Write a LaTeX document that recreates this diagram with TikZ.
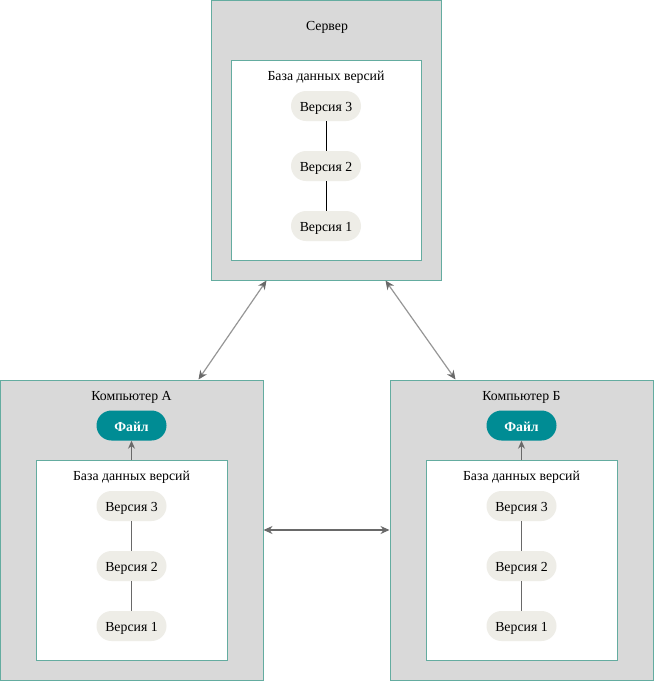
\documentclass[tikz,border=0pt]{standalone}
\usepackage{fontspec}
\setmainfont{Liberation Serif}
\usetikzlibrary{arrows.meta,positioning}
\definecolor{boxgray}{RGB}{217,217,217}
\definecolor{edgeteal}{RGB}{100,172,160}
\definecolor{pillfill}{RGB}{238,237,231}
\definecolor{filefill}{RGB}{0,140,148}
\definecolor{linkgray}{RGB}{150,150,150}
\definecolor{tipgray}{RGB}{105,105,105}
\tikzset{
  labeltext/.style={font=\fontsize{13.8}{16}\selectfont, text height=11pt, text depth=0pt},
  machine/.style={draw=edgeteal, fill=boxgray, line width=1pt, inner sep=0pt},
  repo/.style={draw=edgeteal, fill=white, line width=1pt, inner sep=0pt},
  version/.style={labeltext, fill=pillfill, rounded corners=15pt, minimum width=70pt,
    minimum height=30pt, inner sep=0pt},
  workfile/.style={labeltext, fill=filefill, rounded corners=15pt, minimum width=70pt,
    minimum height=30pt, inner sep=0pt, text=white, font=\fontsize{13.8}{16}\selectfont\bfseries},
  caption/.style={labeltext, inner sep=0pt},
  history/.style={line width=1pt},
  sync/.style={draw=linkgray, line width=1.2pt, {Stealth[length=9pt,width=8pt,color=tipgray]}-{Stealth[length=9pt,width=8pt,color=tipgray]}},
  checkout/.style={draw=tipgray, line width=1pt, -{Stealth[length=8pt,width=7pt,color=tipgray]}}
}
\begin{document}
\begin{tikzpicture}[x=1pt,y=-1pt]
\useasboundingbox (0,0) rectangle (654,681);

% ---------- server ----------
\node[machine, minimum width=230pt, minimum height=280pt] (srv) at (326,140) {};
\node[caption] (srvtitle) at (327,25) {Сервер};
\node[repo, minimum width=190pt, minimum height=200pt] (srvdb) at (326,160) {};
\node[caption] (srvdbtitle) at (326,75) {База данных версий};
\node[version] (s3) at (326,106) {Версия 3};
\node[version] (s2) at (326,166) {Версия 2};
\node[version] (s1) at (326,226) {Версия 1};
\draw[history] (s3) -- (s2);
\draw[history] (s2) -- (s1);

% ---------- computer A ----------
\node[machine, minimum width=263pt, minimum height=300pt] (compA) at (131.5,530) {};
\node[caption] (titleA) at (131.5,395) {Компьютер А};
\node[workfile] (fileA) at (131.5,425.5) {Файл};
\node[repo, minimum width=191pt, minimum height=200pt] (dbA) at (131.5,560) {};
\node[caption] (dbtitleA) at (131.5,475) {База данных версий};
\node[version] (a3) at (131.5,506) {Версия 3};
\node[version] (a2) at (131.5,566) {Версия 2};
\node[version] (a1) at (131.5,626) {Версия 1};
\draw[history, draw=tipgray] (a3) -- (a2);
\draw[history, draw=tipgray] (a2) -- (a1);
\draw[checkout] (dbA.north) -- (fileA.south);

% ---------- computer B ----------
\node[machine, minimum width=263pt, minimum height=300pt] (compB) at (521.5,530) {};
\node[caption] (titleB) at (521.5,395) {Компьютер Б};
\node[workfile] (fileB) at (521.5,425.5) {Файл};
\node[repo, minimum width=191pt, minimum height=200pt] (dbB) at (521.5,560) {};
\node[caption] (dbtitleB) at (521.5,475) {База данных версий};
\node[version] (b3) at (521.5,506) {Версия 3};
\node[version] (b2) at (521.5,566) {Версия 2};
\node[version] (b1) at (521.5,626) {Версия 1};
\draw[history, draw=tipgray] (b3) -- (b2);
\draw[history, draw=tipgray] (b2) -- (b1);
\draw[checkout] (dbB.north) -- (fileB.south);

% ---------- synchronisation links ----------
\draw[sync] ([xshift=56pt]srv.south west) -- ([xshift=199pt]compA.north west);
\draw[sync] ([xshift=-56pt]srv.south east) -- ([xshift=66pt]compB.north west);
\draw[sync, draw=tipgray] (compA.east) -- (compB.west);
\end{tikzpicture}
\end{document}
